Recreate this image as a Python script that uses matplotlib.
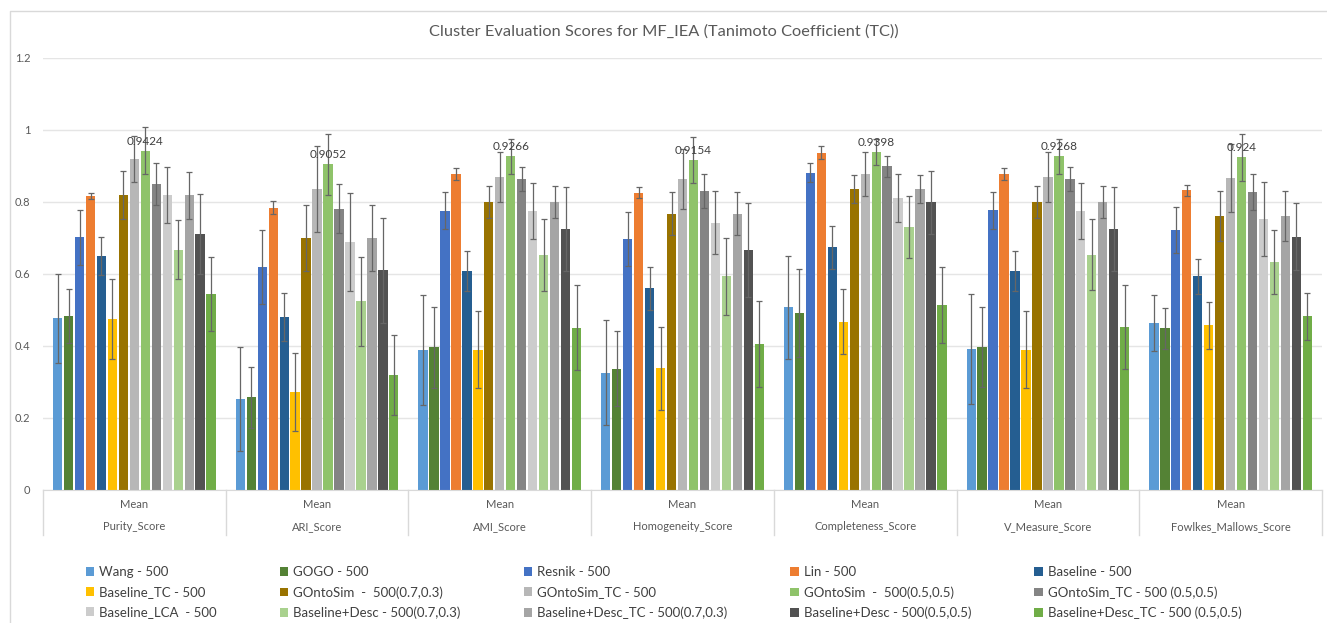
import matplotlib
matplotlib.use("Agg")
import matplotlib.pyplot as plt
from matplotlib.lines import Line2D
import numpy as np

plt.rcParams['font.family'] = ['Lato', 'DejaVu Sans']

groups = ['Purity_Score', 'ARI_Score', 'AMI_Score', 'Homogeneity_Score',
          'Completeness_Score', 'V_Measure_Score', 'Fowlkes_Mallows_Score']

series = ['Wang - 500', 'GOGO - 500', 'Resnik - 500', 'Lin - 500', 'Baseline - 500',
          'Baseline_TC - 500', 'GOntoSim  -  500(0.7,0.3)', 'GOntoSim_TC - 500',
          'GOntoSim  -  500(0.5,0.5)', 'GOntoSim_TC - 500 (0.5,0.5)',
          'Baseline_LCA  - 500', 'Baseline+Desc - 500(0.7,0.3)',
          'Baseline+Desc_TC - 500(0.7,0.3)', 'Baseline+Desc - 500(0.5,0.5)',
          'Baseline+Desc_TC - 500 (0.5,0.5)']

colors = ['#5B9BD5', '#548235', '#4472C4', '#ED7D31', '#255E91',
          '#FFC000', '#997300', '#B7B7B7', '#8FC36A', '#848484',
          '#CCCCCC', '#A9D18E', '#A5A5A5', '#525252', '#70AD47']

# means per series, one value per group (Purity, ARI, AMI, Homog, Compl, V, FM)
means = [
    [0.477, 0.252, 0.389, 0.326, 0.508, 0.391, 0.465],  # Wang
    [0.484, 0.257, 0.396, 0.337, 0.491, 0.397, 0.449],  # GOGO
    [0.702, 0.619, 0.776, 0.697, 0.881, 0.777, 0.722],  # Resnik
    [0.817, 0.784, 0.878, 0.826, 0.937, 0.878, 0.832],  # Lin
    [0.650, 0.481, 0.609, 0.560, 0.674, 0.609, 0.594],  # Baseline
    [0.474, 0.272, 0.389, 0.338, 0.467, 0.389, 0.457],  # Baseline_TC
    [0.819, 0.701, 0.800, 0.768, 0.836, 0.800, 0.761],  # GOntoSim 0.7
    [0.919, 0.836, 0.870, 0.863, 0.878, 0.870, 0.866],  # GOntoSim_TC
    [0.9424, 0.9052, 0.9266, 0.9154, 0.9398, 0.9268, 0.924],  # GOntoSim 0.5
    [0.850, 0.781, 0.863, 0.831, 0.899, 0.863, 0.827],  # GOntoSim_TC 0.5
    [0.819, 0.689, 0.775, 0.743, 0.811, 0.775, 0.753],  # Baseline_LCA
    [0.667, 0.524, 0.653, 0.594, 0.730, 0.654, 0.633],  # B+D 0.7
    [0.819, 0.701, 0.800, 0.768, 0.836, 0.800, 0.761],  # B+D_TC 0.7
    [0.711, 0.610, 0.725, 0.667, 0.799, 0.725, 0.703],  # B+D 0.5
    [0.544, 0.320, 0.451, 0.406, 0.514, 0.452, 0.482],  # B+D_TC 0.5
]

errors = [
    [0.123, 0.144, 0.154, 0.146, 0.143, 0.153, 0.078],
    [0.075, 0.086, 0.112, 0.104, 0.122, 0.112, 0.057],
    [0.076, 0.103, 0.052, 0.075, 0.026, 0.052, 0.065],
    [0.008, 0.018, 0.017, 0.016, 0.018, 0.017, 0.014],
    [0.053, 0.066, 0.055, 0.059, 0.059, 0.055, 0.049],
    [0.111, 0.109, 0.107, 0.115, 0.090, 0.107, 0.065],
    [0.066, 0.092, 0.045, 0.059, 0.038, 0.045, 0.069],
    [0.064, 0.120, 0.070, 0.083, 0.060, 0.070, 0.094],
    [0.066, 0.085, 0.048, 0.064, 0.036, 0.048, 0.066],
    [0.057, 0.068, 0.033, 0.047, 0.030, 0.033, 0.050],
    [0.077, 0.135, 0.077, 0.088, 0.067, 0.077, 0.103],
    [0.082, 0.124, 0.099, 0.107, 0.086, 0.098, 0.089],
    [0.065, 0.092, 0.045, 0.059, 0.038, 0.045, 0.069],
    [0.110, 0.145, 0.117, 0.131, 0.087, 0.118, 0.093],
    [0.103, 0.111, 0.118, 0.120, 0.105, 0.117, 0.065],
]

labelled = 8  # series that carries data labels

W, H = 1327, 623
fig = plt.figure(figsize=(W / 100, H / 100), dpi=100)
ax = fig.add_axes([43 / W, 1 - 490 / H, (1322 - 43) / W, (490 - 58) / H])

x = np.arange(len(groups))
slot = 0.06
bw = 0.051
handles = []
for k in range(len(series)):
    pos = x + (k - 7) * slot
    b = ax.bar(pos, means[k], bw, color=colors[k], label=series[k], zorder=2)
    ax.errorbar(pos, means[k], yerr=errors[k], fmt='none', ecolor='#666666',
                elinewidth=0.9, capsize=2.3, capthick=0.9, zorder=3)
    handles.append(b)
    if k == labelled:
        for px, v in zip(pos, means[k]):
            ax.annotate(f'{v:g}', (px, v), xytext=(0, 3), textcoords='offset points',
                        ha='center', va='bottom', fontsize=8.5, color='#404040', zorder=4)

ax.set_xlim(-0.5, len(groups) - 0.5)
ax.set_ylim(0, 1.2)
ax.set_yticks([0, 0.2, 0.4, 0.6, 0.8, 1.0, 1.2])
ax.set_yticklabels(['0', '0.2', '0.4', '0.6', '0.8', '1', '1.2'])
ax.tick_params(axis='y', length=0, pad=9, labelsize=8, labelcolor='#595959')
ax.set_xticks([])
ax.grid(axis='y', color='#E5E5E5', linewidth=1, zorder=0)
for s in ['top', 'right', 'left']:
    ax.spines[s].set_visible(False)
ax.spines['bottom'].set_color('#D9D9D9')

# category axis: "Mean" row and group names with dividers
tr = ax.get_xaxis_transform()
depth = 45 / (490 - 58)
for i in range(len(groups) + 1):
    ax.plot([i - 0.5, i - 0.5], [0, -depth], transform=tr, color='#D9D9D9',
            lw=1, clip_on=False)
for i, g in enumerate(groups):
    ax.text(i, -15 / (490 - 58), 'Mean', transform=tr, ha='center', va='center',
            fontsize=8, color='#595959')
    ax.text(i, -37 / (490 - 58), g, transform=tr, ha='center', va='center',
            fontsize=8, color='#595959')

fig.text(0.5, 1 - 32 / H, 'Cluster Evaluation Scores for MF_IEA (Tanimoto Coefficient (TC))',
         ha='center', va='center', fontsize=11.8, color='#595959')

order = [r * 5 + c for c in range(5) for r in range(3)]
leg = fig.legend([handles[i] for i in order], [series[i] for i in order],
                 loc='upper center', bbox_to_anchor=(0.5, 1 - 566 / H), ncol=5,
                 frameon=False, fontsize=9.5, handlelength=0.65, handleheight=0.65,
                 handletextpad=0.35, columnspacing=4.8, labelspacing=0.62,
                 borderaxespad=0, borderpad=0)
for t in leg.get_texts():
    t.set_color('#404040')

# outer chart border
fig.add_artist(Line2D([10 / W, 10 / W, 1], [0, 1 - 11 / H, 1 - 11 / H],
                      transform=fig.transFigure, color='#D9D9D9', lw=1))

fig.savefig('out.png', dpi=100)
